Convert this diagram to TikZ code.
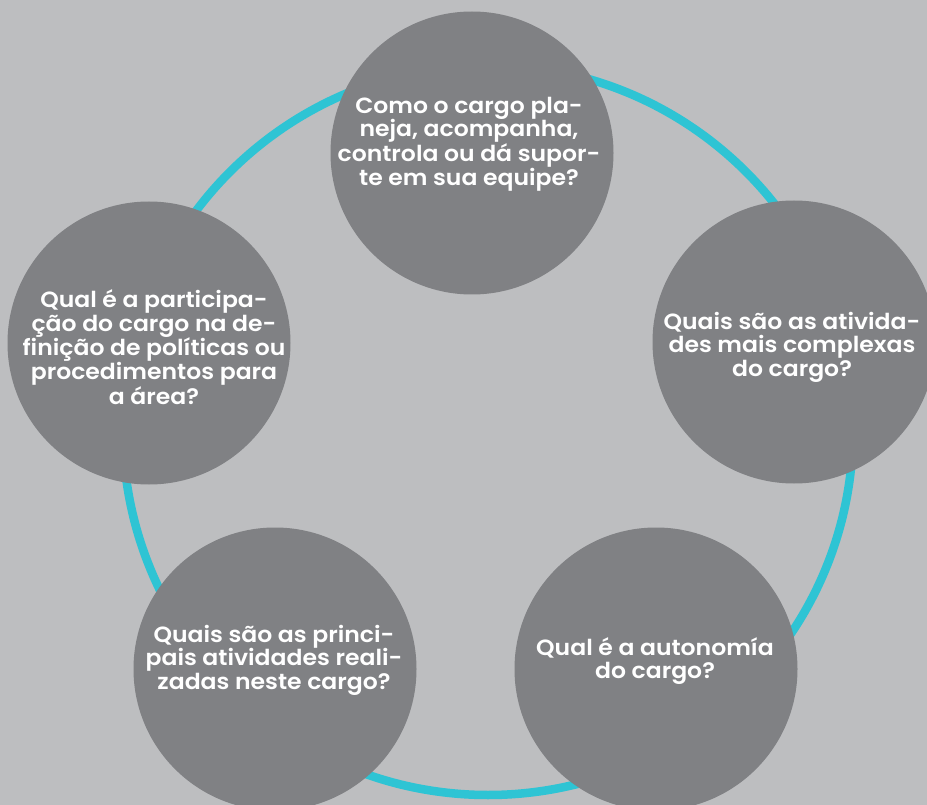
\documentclass[tikz,border=0pt]{standalone}
\usepackage{fontspec}
\setmainfont{Poppins}[BoldFont={Poppins SemiBold}, BoldFeatures={FakeStretch=1.07}]
\usepackage{tikz}
\usepackage{xcolor}
\definecolor{bggray}{HTML}{BDBEC0}
\definecolor{ballgray}{HTML}{808184}
\definecolor{ringcyan}{HTML}{2EC4D4}

\begin{document}
\begin{tikzpicture}[x=1pt, y=-1pt,
  ball/.style={circle, fill=ballgray, minimum size=283pt, inner sep=0pt},
  question/.style={text=white, align=center, font=\bfseries\fontsize{22}{23.6}\selectfont, inner sep=0pt},
  ring/.style={draw=ringcyan, line width=8.5pt}]
\useasboundingbox (0,0) rectangle (927,805);
\fill[bggray] (0,0) rectangle (927,805);
\draw[ring] (488,430) circle (365pt);
% the five questions
\node[ball] (planeja) at (472,153) {};
\node[ball] (politicas) at (149,343) {};
\node[ball] (complexas) at (794,342) {};
\node[ball] (principais) at (275,669) {};
\node[ball] (autonomia) at (656,669) {};
\node[question] (planejaq) at (469,144) {Como o cargo pla-\\neja, acompanha,\\controla ou dá supor-\\te em sua equipe?};
\node[question] (politicasq) at (154,347) {Qual é a participa-\\ção do cargo na de-\\finição de políticas ou\\procedimentos para\\a área?};
\node[question] (complexasq) at (792,347) {Quais são as ativida-\\des mais complexas\\do cargo?};
\node[question] (principaisq) at (274,660) {Quais são as princi-\\pais atividades reali-\\zadas neste cargo?};
\node[question] (autonomiaq) at (655,661) {Qual é a autonomía\\do cargo?};
\end{tikzpicture}
\end{document}
